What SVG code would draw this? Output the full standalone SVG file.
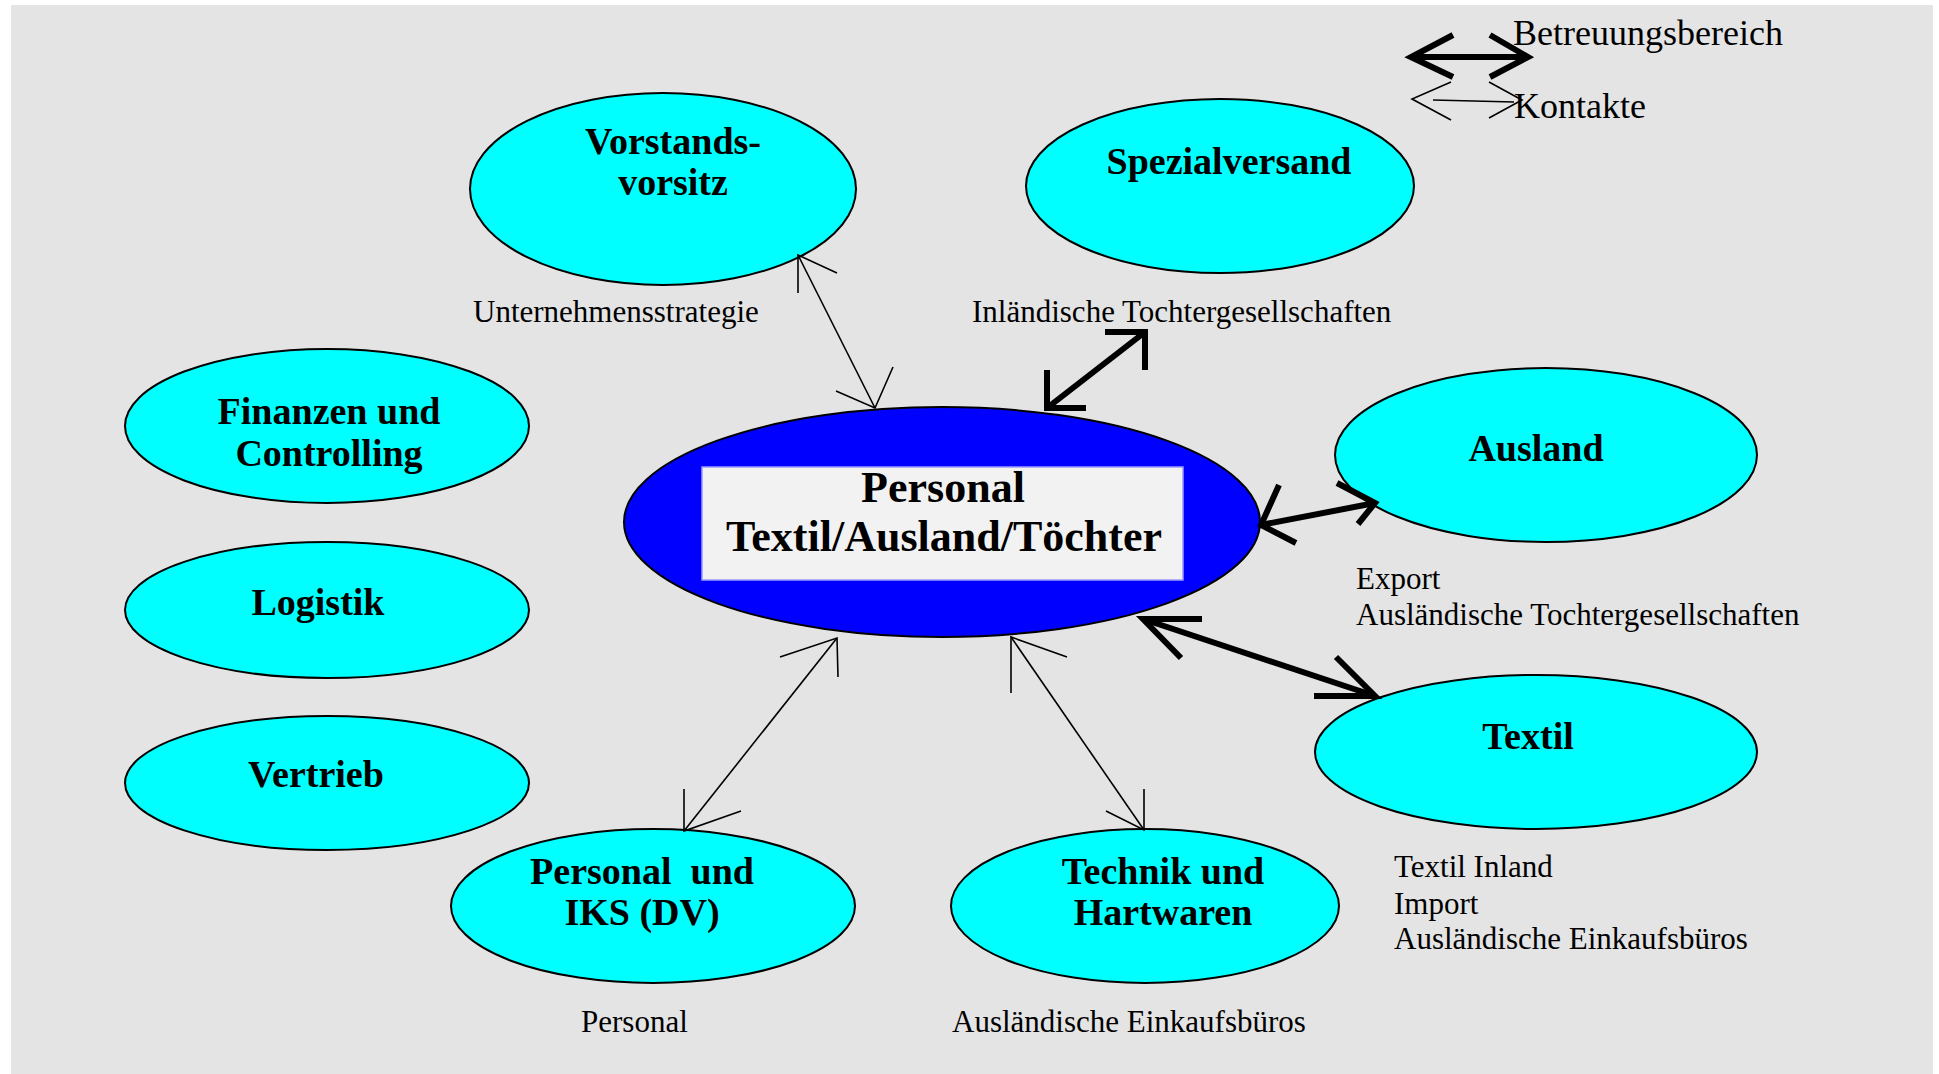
<svg xmlns="http://www.w3.org/2000/svg" width="1939" height="1074" viewBox="0 0 1939 1074">
<style>
.node{fill:#00ffff;stroke:#000;stroke-width:2}
.center{fill:#0000ff;stroke:#000;stroke-width:2}
.nt{font-family:"Liberation Serif","Times New Roman",serif;font-weight:bold;font-size:38px;fill:#000;text-anchor:middle}
.ct{font-family:"Liberation Serif","Times New Roman",serif;font-weight:bold;font-size:44px;fill:#000;text-anchor:middle}
.lb{font-family:"Liberation Serif","Times New Roman",serif;font-size:31px;fill:#000}
.lg{font-family:"Liberation Serif","Times New Roman",serif;font-size:36px;fill:#000}
.thin{stroke:#000;stroke-width:1.6;fill:none}
.thick{stroke:#000;stroke-width:6;fill:none;stroke-linejoin:miter}
</style>
<rect x="0" y="0" width="1939" height="1074" fill="#ffffff"/>
<rect x="11" y="5" width="1922" height="1069" fill="#e4e4e4"/>

<g id="node-vorstand">
<ellipse class="node" cx="663" cy="189" rx="193" ry="96"/>
<text class="nt" x="673" y="154">Vorstands-</text>
<text class="nt" x="673" y="195">vorsitz</text>
</g>
<g id="node-spezialversand">
<ellipse class="node" cx="1220" cy="186" rx="194" ry="87"/>
<text class="nt" x="1229" y="174">Spezialversand</text>
</g>
<g id="node-finanzen">
<ellipse class="node" cx="327" cy="426" rx="202" ry="77"/>
<text class="nt" x="329" y="424">Finanzen und</text>
<text class="nt" x="329" y="466">Controlling</text>
</g>
<g id="node-logistik">
<ellipse class="node" cx="327" cy="610" rx="202" ry="68"/>
<text class="nt" x="318" y="615">Logistik</text>
</g>
<g id="node-vertrieb">
<ellipse class="node" cx="327" cy="783" rx="202" ry="67"/>
<text class="nt" x="316" y="787">Vertrieb</text>
</g>
<g id="node-ausland">
<ellipse class="node" cx="1546" cy="455" rx="211" ry="87"/>
<text class="nt" x="1536" y="461">Ausland</text>
</g>
<g id="node-textil">
<ellipse class="node" cx="1536" cy="752" rx="221" ry="77"/>
<text class="nt" x="1528" y="749">Textil</text>
</g>
<g id="node-personal-iks">
<ellipse class="node" cx="653" cy="906" rx="202" ry="77"/>
<text class="nt" x="642" y="884" xml:space="preserve">Personal  und</text>
<text class="nt" x="642" y="925">IKS (DV)</text>
</g>
<g id="node-technik">
<ellipse class="node" cx="1145" cy="906" rx="194" ry="77"/>
<text class="nt" x="1163" y="884">Technik und</text>
<text class="nt" x="1163" y="925">Hartwaren</text>
</g>
<g id="node-center">
<ellipse class="center" cx="942" cy="522" rx="318" ry="115"/>
<rect x="702" y="467" width="481" height="113" fill="#f2f2f2" stroke="#9a9aff" stroke-width="1.5"/>
<text class="ct" x="943" y="502">Personal</text>
<text class="ct" x="944" y="551">Textil/Ausland/Töchter</text>
</g>

<g id="labels">
<text class="lb" x="473" y="322">Unternehmensstrategie</text>
<text class="lb" x="972" y="322">Inländische Tochtergesellschaften</text>
<text class="lb" x="1356" y="589">Export</text>
<text class="lb" x="1356" y="625">Ausländische Tochtergesellschaften</text>
<text class="lb" x="1394" y="877">Textil Inland</text>
<text class="lb" x="1394" y="914">Import</text>
<text class="lb" x="1394" y="949">Ausländische Einkaufsbüros</text>
<text class="lb" x="581" y="1032">Personal</text>
<text class="lb" x="952" y="1032">Ausländische Einkaufsbüros</text>
</g>

<g id="connectors">
<line class="thin" x1="798" y1="255" x2="875" y2="408"/>
<polyline class="thin" points="798,293 798,255 837,273"/>
<polyline class="thin" points="836,391 875,408 893,367"/>

<line class="thick" x1="1047" y1="408" x2="1145" y2="332"/>
<polyline class="thick" points="1047,370 1047,408 1086,408"/>
<polyline class="thick" points="1105,332 1145,332 1145,370"/>

<line class="thick" x1="1261" y1="525" x2="1375" y2="503"/>
<polyline class="thick" points="1279,485 1261,525 1296,543"/>
<polyline class="thick" points="1337,483 1375,503 1358,524"/>

<line class="thick" x1="1143" y1="619" x2="1375" y2="696"/>
<polyline class="thick" points="1202,619 1143,619 1181,658"/>
<polyline class="thick" points="1314,696 1375,696 1336,657"/>

<line class="thin" x1="837" y1="638" x2="684" y2="831"/>
<polyline class="thin" points="780,657 837,638 838,677"/>
<polyline class="thin" points="684,789 684,831 741,811"/>

<line class="thin" x1="1011" y1="637" x2="1144" y2="830"/>
<polyline class="thin" points="1011,693 1011,637 1067,657"/>
<polyline class="thin" points="1144,789 1144,830 1106,811"/>
</g>

<g id="legend">
<line class="thick" x1="1411" y1="57" x2="1528" y2="57"/>
<polyline class="thick" points="1453,35 1411,57 1453,77"/>
<polyline class="thick" points="1490,35 1528,57 1490,77"/>
<line class="thin" x1="1433" y1="100" x2="1514" y2="102"/>
<polyline class="thin" points="1451,82 1412,99 1451,120"/>
<polyline class="thin" points="1489,82 1522,100 1489,118"/>
<text class="lg" x="1513" y="45">Betreuungsbereich</text>
<text class="lg" x="1514" y="118">Kontakte</text>
</g>
</svg>
